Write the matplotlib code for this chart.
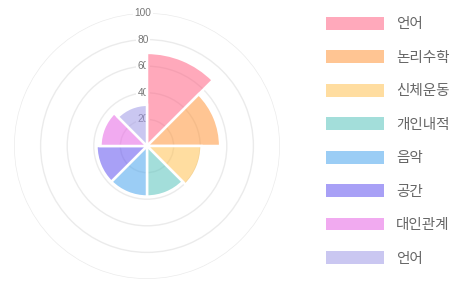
import numpy as np
import matplotlib
matplotlib.use("Agg")
import matplotlib.pyplot as plt
from matplotlib.patches import Patch
from matplotlib.transforms import offset_copy

plt.rcParams['font.family'] = ['Noto Sans CJK KR', 'DejaVu Sans']

labels = ['언어', '논리수학', '신체운동', '개인내적', '음악', '공간', '대인관계', '언어']
values = [70, 55, 41, 38, 38, 38, 35, 31]
base_colors = [(255, 99, 132), (255, 150, 59), (255, 193, 82), (88, 195, 188),
               (73, 164, 237), (97, 82, 240), (231, 100, 228), (160, 153, 231)]
alpha = 0.55
ticks = [20, 40, 60, 80, 100]

colors = [(r / 255, g / 255, b / 255, alpha) for r, g, b in base_colors]

W, H = 470, 287
fig = plt.figure(figsize=(W / 100, H / 100), dpi=100)
cx, cy, R = 147, 141, 133
ax = fig.add_axes([(cx - R) / W, (cy - R) / H, 2 * R / W, 2 * R / H], projection='polar')
ax.set_theta_zero_location('N')
ax.set_theta_direction(-1)
ax.set_ylim(0, 100)
ax.spines['polar'].set_visible(False)
ax.set_xticks([])
ax.set_yticks(ticks)
ax.set_yticklabels([])
ax.yaxis.grid(True, color='#ebebeb', linewidth=1)
ax.xaxis.grid(False)
ax.set_axisbelow(True)

lbl_tr = offset_copy(ax.transData, fig=fig, x=-4, y=0, units='dots')
for t in ticks:
    ax.text(0, t, str(t), transform=lbl_tr, ha='center', va='center', fontsize=7.3,
            color='#777777', family='Liberation Sans', zorder=2,
            bbox=dict(boxstyle='square,pad=0.15', fc='white', ec='none'))

n = len(values)
width = 2 * np.pi / n
theta = np.arange(n) * width
ax.bar(theta, values, width=width, bottom=0, align='edge', color=colors,
       edgecolor='white', linewidth=1.8, zorder=3)

handles = [Patch(facecolor=c, edgecolor='none') for c in colors]
fs = 10.5
fpx = fs * 100 / 72
fig.legend(handles, labels, loc='upper left', bbox_to_anchor=(326 / W, 1 - 17 / H),
           frameon=False, fontsize=fs, labelcolor='#666666',
           handlelength=58 / fpx, handleheight=14 / fpx, handletextpad=12 / fpx,
           labelspacing=(33.7 - fpx) / fpx, borderpad=0, borderaxespad=0)

fig.savefig('out.png', dpi=100, facecolor='white')
